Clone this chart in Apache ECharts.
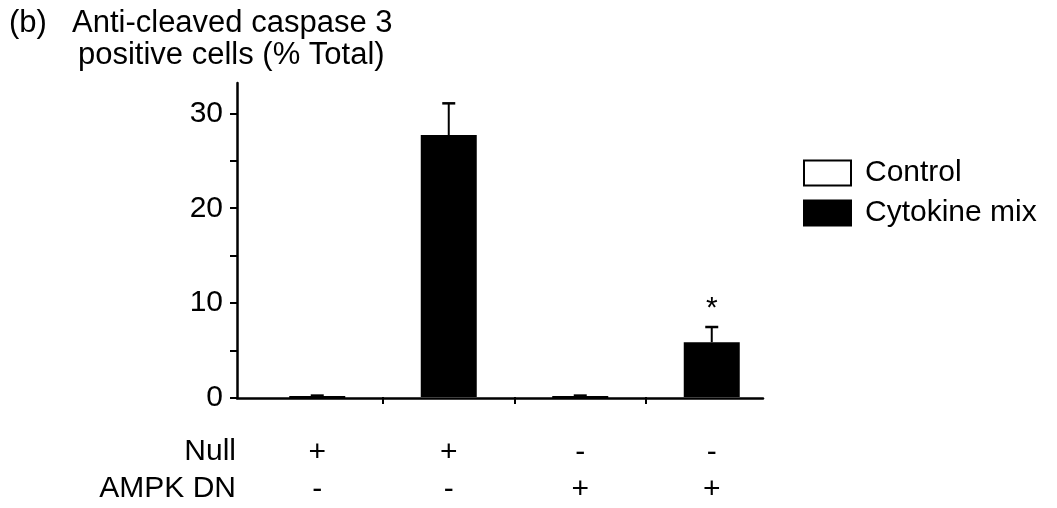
<!DOCTYPE html>
<html>
<head>
<meta charset="utf-8">
<script src="https://cdn.jsdelivr.net/npm/echarts@6/dist/echarts.min.js"></script>
<style>
  html, body { margin: 0; padding: 0; background: #fff; }
  #chart { width: 1057px; height: 508px; }
</style>
</head>
<body>
<div id="chart"></div>
<script>
// conditions (x categories): row marks under the axis
var nullRow = ['+', '+', '-', '-'];
var ampkRow = ['-', '-', '+', '+'];
var categories = ['Null+ AMPK-', 'Null+ AMPK-', 'Null- AMPK+', 'Null- AMPK+'];

// % cleaved caspase 3 positive cells
var controlVals = [0, null, 0, null];
var controlErr = [0.15, null, 0.15, null];
var cytokineVals = [null, 27.7, null, 5.8];
var cytokineErr = [null, 3.35, null, 1.6];
var sigMarks = ['', '', '', '*'];

var yTicks = [0, 5, 10, 15, 20, 25, 30];
var yLabels = [0, 10, 20, 30];

var FONT = 'Liberation Sans';
var chart = echarts.init(document.getElementById('chart'));

// error bars: one row per bar [index, mean, err, mark]
var errData = [];
for (var i = 0; i < categories.length; i++) {
  if (controlVals[i] != null) errData.push([i, controlVals[i], controlErr[i], '']);
  if (cytokineVals[i] != null) errData.push([i, cytokineVals[i], cytokineErr[i], sigMarks[i]]);
}
// tick positions between the conditions (in category index units)
var boundaries = [];
for (var b = 1; b < categories.length; b++) boundaries.push(b);

function renderErr(params, api) {
  var x = api.value(0);
  var base = api.coord([x, api.value(1)]);
  var top = api.coord([x, api.value(1) + api.value(2)]);
  var half = 6.5;
  var children = [
    { type: 'line', shape: { x1: base[0], y1: base[1], x2: top[0], y2: top[1] },
      style: { stroke: '#000', lineWidth: 2 } },
    { type: 'line', shape: { x1: top[0] - half, y1: top[1], x2: top[0] + half, y2: top[1] },
      style: { stroke: '#000', lineWidth: 2.5 } }
  ];
  var mark = api.value(3);
  if (mark) {
    children.push({ type: 'text', x: top[0], y: top[1] - 18,
      style: { text: mark, fill: '#000', font: '30px "' + FONT + '"', align: 'center', verticalAlign: 'middle' } });
  }
  return { type: 'group', children: children };
}

var txt = { color: '#000', fontFamily: FONT, fontSize: 30, fontWeight: 'normal' };
var titleTxt = { color: '#000', fontFamily: FONT, fontSize: 31, fontWeight: 'normal' };

chart.setOption({
  animation: false,
  backgroundColor: '#fff',
  textStyle: { fontFamily: FONT },
  title: [
    { text: '(b)', left: 9, top: 8, padding: 0, textStyle: titleTxt },
    { text: 'Anti-cleaved caspase 3', left: 72, top: 8, padding: 0, textStyle: titleTxt },
    { text: 'positive cells (% Total)', left: 78, top: 40, padding: 0, textStyle: titleTxt },
    { text: 'Null', right: 821, top: 437, padding: 0, textStyle: txt },
    { text: 'AMPK DN', right: 821, top: 474, padding: 0, textStyle: txt }
  ],
  legend: {
    orient: 'vertical',
    left: 803,
    top: 158,
    padding: 0,
    icon: 'rect',
    itemWidth: 47,
    itemHeight: 25,
    itemGap: 10,
    data: ['Control', 'Cytokine mix'],
    textStyle: { color: '#000', fontFamily: FONT, fontSize: 30, padding: [0, 0, 0, 9] }
  },
  grid: [
    { left: 251.5, right: 279.5, top: 83, bottom: 110 },
    { left: 237, right: 294, top: 83, bottom: 110 }
  ],
  xAxis: [
    {
      type: 'category', gridIndex: 0, position: 'bottom',
      data: categories,
      axisLine: { show: false },
      axisTick: { show: false },
      axisLabel: {
        margin: 37, color: '#000', fontFamily: FONT, fontSize: 30, lineHeight: 37,
        formatter: function (v, idx) { return nullRow[idx] + '\n' + ampkRow[idx]; }
      }
    },
    {
      type: 'value', gridIndex: 0, position: 'bottom', min: 0, max: categories.length,
      axisLine: { show: false },
      axisTick: { show: true, customValues: boundaries, length: 7, lineStyle: { color: '#000', width: 2 } },
      axisLabel: { show: false },
      splitLine: { show: false }
    },
    {
      type: 'value', gridIndex: 1, position: 'bottom', min: 0, max: 1,
      axisLine: { show: true, lineStyle: { color: '#000', width: 2.5 } },
      axisTick: { show: false },
      axisLabel: { show: false },
      splitLine: { show: false }
    }
  ],
  yAxis: [
    { type: 'value', gridIndex: 0, min: 0, max: 33.2, show: false },
    {
      type: 'value', gridIndex: 1, min: 0, max: 33.2,
      axisLine: { show: true, lineStyle: { color: '#000', width: 2.5 } },
      axisTick: { show: true, customValues: yTicks, length: 7, lineStyle: { color: '#000', width: 2 } },
      axisLabel: { customValues: yLabels, margin: 14, color: '#000', fontFamily: FONT, fontSize: 30 },
      splitLine: { show: false }
    }
  ],
  series: [
    {
      name: 'Control', type: 'bar', xAxisIndex: 0, yAxisIndex: 0,
      barWidth: 56, barGap: '-100%',
      itemStyle: { color: '#fff', borderColor: '#000', borderWidth: 2 },
      data: controlVals
    },
    {
      name: 'Cytokine mix', type: 'bar', xAxisIndex: 0, yAxisIndex: 0,
      barWidth: 56, barGap: '-100%',
      itemStyle: { color: '#000', borderColor: '#000', borderWidth: 2 },
      data: cytokineVals
    },
    {
      type: 'custom', xAxisIndex: 0, yAxisIndex: 0, z: 5,
      renderItem: renderErr,
      data: errData
    }
  ]
});
</script>
</body>
</html>
